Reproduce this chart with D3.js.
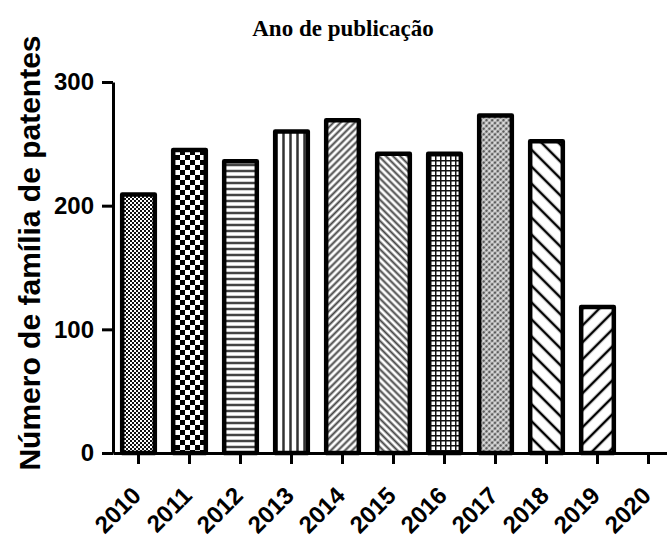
<!DOCTYPE html>
<html>
<head>
<meta charset="utf-8">
<script src="https://cdn.jsdelivr.net/npm/d3@7"></script>
<style>
  body { margin: 0; background: #fff; }
  svg { display: block; }
</style>
</head>
<body>
<script>
// dados do gráfico
const years = ["2010", "2011", "2012", "2013", "2014", "2015", "2016", "2017", "2018", "2019", "2020"];
const counts = [209, 245, 236, 260, 269, 242, 242, 273, 252, 118, 0];
const yTicks = [0, 100, 200, 300];
const titleText = "Ano de publicação";
const yLabel = "Número de família de patentes";

// um padrão de preenchimento por barra
const fills = ["dots", "checker", "hlines", "vlines", "diagUp", "diagDown", "grid", "diagDense", "wideDown", "wideUp", "none"];

const width = 667, height = 537;
const margin = { left: 113, bottom: 453, top: 82 };

const svg = d3.select("body").append("svg")
    .attr("width", width)
    .attr("height", height);

const defs = svg.append("defs");

// padrões (hachuras)
function stripes(id, size, angle, color, sw) {
    const p = defs.append("pattern")
        .attr("id", id)
        .attr("patternUnits", "userSpaceOnUse")
        .attr("width", size).attr("height", size)
        .attr("patternTransform", "rotate(" + angle + ")");
    p.append("rect").attr("width", size).attr("height", size).attr("fill", "#fff");
    p.append("line")
        .attr("x1", size / 2).attr("y1", 0)
        .attr("x2", size / 2).attr("y2", size)
        .attr("stroke", color).attr("stroke-width", sw);
    return p;
}

let p = defs.append("pattern").attr("id", "dots")
    .attr("patternUnits", "userSpaceOnUse").attr("width", 4).attr("height", 4);
p.append("rect").attr("width", 4).attr("height", 4).attr("fill", "#111");
p.append("rect").attr("width", 2).attr("height", 2).attr("fill", "#fff");
p.append("rect").attr("x", 2).attr("y", 2).attr("width", 2).attr("height", 2).attr("fill", "#fff");

p = defs.append("pattern").attr("id", "checker")
    .attr("patternUnits", "userSpaceOnUse").attr("width", 10).attr("height", 10);
p.append("rect").attr("width", 10).attr("height", 10).attr("fill", "#fff");
p.append("rect").attr("width", 5).attr("height", 5).attr("fill", "#000");
p.append("rect").attr("x", 5).attr("y", 5).attr("width", 5).attr("height", 5).attr("fill", "#000");

stripes("hlines", 6, 90, "#444", 2.5);
stripes("vlines", 7, 0, "#333", 2.5);
stripes("diagUp", 5, 45, "#444", 2);
stripes("diagDown", 5, -45, "#444", 2);
stripes("wideDown", 12, -45, "#000", 2.5);
stripes("wideUp", 12, 45, "#000", 2.5);

p = defs.append("pattern").attr("id", "grid")
    .attr("patternUnits", "userSpaceOnUse").attr("width", 5).attr("height", 5);
p.append("rect").attr("width", 5).attr("height", 5).attr("fill", "#fff");
p.append("line").attr("x1", 0).attr("y1", 0.75).attr("x2", 5).attr("y2", 0.75)
    .attr("stroke", "#111").attr("stroke-width", 1.5);
p.append("line").attr("x1", 0.75).attr("y1", 0).attr("x2", 0.75).attr("y2", 5)
    .attr("stroke", "#111").attr("stroke-width", 1.5);

p = defs.append("pattern").attr("id", "diagDense")
    .attr("patternUnits", "userSpaceOnUse").attr("width", 4).attr("height", 4)
    .attr("patternTransform", "rotate(45)");
p.append("rect").attr("width", 4).attr("height", 4).attr("fill", "#bbb");
p.append("line").attr("x1", 1).attr("y1", 0).attr("x2", 1).attr("y2", 4)
    .attr("stroke", "#444").attr("stroke-width", 1.6);
p.append("line").attr("x1", 0).attr("y1", 3).attr("x2", 4).attr("y2", 3)
    .attr("stroke", "#fff").attr("stroke-width", 1);

// escalas
const x = d3.scaleBand()
    .domain(years)
    .range([margin.left, margin.left + 51 * years.length])
    .paddingInner(0.36)
    .paddingOuter(0.18);

const y = d3.scaleLinear()
    .domain([0, 300])
    .range([margin.bottom, margin.top]);

const data = years.map((yr, i) => ({ year: yr, value: counts[i], fill: fills[i] }));

// barras
svg.append("g")
    .selectAll("rect")
    .data(data.filter(d => d.value > 0))
    .enter().append("rect")
    .attr("x", d => x(d.year))
    .attr("y", d => y(d.value))
    .attr("width", x.bandwidth())
    .attr("height", d => y(0) - y(d.value))
    .attr("fill", d => "url(#" + d.fill + ")")
    .attr("stroke", "#000")
    .attr("stroke-width", 4.5)
    .attr("stroke-linejoin", "round");

// eixo x
const xAxis = svg.append("g")
    .attr("transform", "translate(0," + margin.bottom + ")")
    .call(d3.axisBottom(x).tickSizeOuter(0).tickSizeInner(11));

xAxis.selectAll("text")
    .attr("x", 0).attr("y", 0).attr("dy", null)
    .attr("text-anchor", "end")
    .attr("transform", "translate(4,44) rotate(-45)");

// eixo y
const yAxis = svg.append("g")
    .attr("transform", "translate(" + margin.left + ",0)")
    .call(d3.axisLeft(y).tickValues(yTicks).tickSizeOuter(0).tickSizeInner(11).tickPadding(8));

svg.selectAll(".domain, .tick line")
    .attr("stroke", "#000")
    .attr("stroke-width", 3);

svg.selectAll(".tick text")
    .attr("fill", "#000")
    .style("font", "bold 24px 'Liberation Sans', Arial, sans-serif");

// rótulo do eixo y
svg.append("text")
    .attr("transform", "translate(40,253) rotate(-90)")
    .attr("text-anchor", "middle")
    .style("font", "bold 30px 'Liberation Sans', Arial, sans-serif")
    .text(yLabel);

// título
svg.append("text")
    .attr("x", 343)
    .attr("y", 36)
    .attr("text-anchor", "middle")
    .style("font", "bold 23px 'Liberation Serif', 'Times New Roman', serif")
    .text(titleText);
</script>
</body>
</html>
